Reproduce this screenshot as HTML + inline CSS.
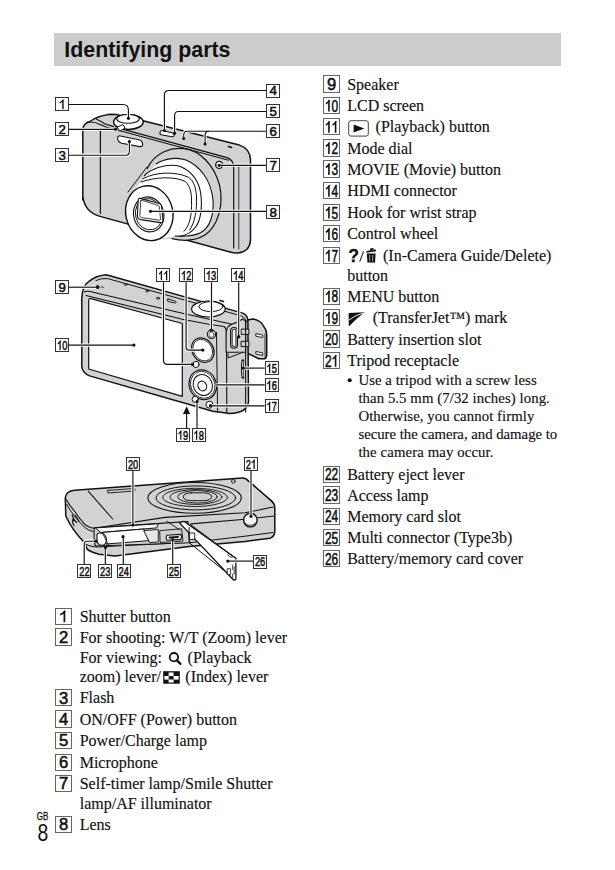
<!DOCTYPE html>
<html><head><meta charset="utf-8"><style>
html,body{margin:0;padding:0;background:#fff;}
body{width:615px;height:870px;position:relative;overflow:hidden;}
.title{position:absolute;left:54px;top:33px;width:507px;height:33px;background:#cccccc;}
.title span{position:absolute;left:10.4px;top:0;font-family:"Liberation Sans",sans-serif;font-weight:bold;font-size:21.5px;line-height:33px;color:#111;white-space:nowrap;}
svg{position:absolute;left:0;top:0;}
</style></head><body>
<div class="title"></div>
<svg width="615" height="870" viewBox="0 0 615 870" fill="#111">
<g id="cam1" stroke="#111" stroke-width="1.5" stroke-linejoin="round" stroke-linecap="round">
  <!-- body silhouette -->
  <path d="M82.8 200 L82.8 130 Q83 123.5 89.5 121.8 Q97 116 110 114.3 L116 114.6 L143 120.7 L239.3 145.1 Q250.2 148.5 250.5 160 L250.5 240 Q250 251.5 238 253 Q234 253.2 230 252 L100 216.4 Q84.5 212 82.8 196 Z" fill="#d2d2d4"/>
  <!-- top surface front edge lines -->
  <path d="M96.5 119.2 Q101 121 104.5 123.8 L113.6 126.6" fill="none" stroke-width="1.1"/>
  <path d="M87.4 122.1 Q95 121.5 100 124.5 Q106 127.6 113.6 129" fill="none" stroke-width="1.1"/>
  <path d="M121.5 128.9 L227 157.6 Q233.7 159.8 233.7 168 L233.7 248" fill="none" stroke-width="1.2"/>
  <path d="M119 130.5 L228.5 160.2" fill="none" stroke-width="1.1"/>
  <path d="M238.8 166.5 L238.8 249" fill="none" stroke="#333" stroke-width="1"/>
  <path d="M100.4 131 L100.4 213.5" fill="none" stroke-width="1.2"/>
  <!-- shutter -->
  <ellipse cx="128.4" cy="122" rx="14.8" ry="7.4" fill="#fff"/>
  <ellipse cx="128" cy="118.9" rx="11.3" ry="4.4" fill="#fff" stroke-width="1.1"/>
  <!-- zoom lever -->
  <path d="M117.5 127 L123 124.5 L125 128 L120 131 Z" fill="#fff" stroke-width="1"/>
  <!-- flash -->
  <path d="M119.2 135.8 Q117.2 136.6 117.6 138.6 L118.3 140.8 Q119 142.6 121.8 143.2 L139.6 146.6 Q142.6 147 142.7 144.7 L142.2 142.4 Q141.6 140.4 138.8 139.8 Z" fill="#fff" stroke-width="1.1"/>
  <!-- power button -->
  <path d="M160.1 131.7 Q159.3 133.5 161 134.7 L172 136.7 Q174.3 136.9 174.3 135.1 Q173.9 133.1 172 132.7 L162.3 130.5 Q160.7 130.3 160.1 131.7 Z" fill="#fff" stroke-width="1.1"/>
  
  <!-- strap mark -->
  <path d="M228.5 146.5 L231.5 147.4" stroke-width="1.6"/>
  <!-- lens base -->
  <path d="M147.3 168.4 C 155 152, 172 147, 184 148.7 C 200 150.5, 214 165, 219.5 185 C 224 205, 218 226, 205 235 C 195 241, 182 241, 176.6 238.7 L 150 240 L 135 200 Z" fill="#d2d2d4" stroke="none"/>
  <path d="M147.3 168.4 C 155 152, 172 147, 184 148.7 C 200 150.5, 214 165, 219.5 185 C 224 205, 218 226, 205 235 C 195 241, 182 241, 172 238.7" fill="none" stroke-width="1.2"/>
  <path d="M156.1 164 C 165 158, 178 157, 186 160 C 200 166, 211 180, 213 200 C 214 215, 210 228, 200 233 C 193 236.5, 185 236.5, 175 236 L 150 240 L 130 195 Z" fill="#fff" stroke="none"/>
  <path d="M156.1 164 C 165 158, 178 157, 186 160 C 200 166, 211 180, 213 200 C 214 215, 210 228, 200 233 C 193 236.5, 185 236.5, 175 236" fill="none" stroke-width="1.1"/>
  <path d="M130 195 L 156.1 164 L 175 236 L 150 240 Z" fill="#fff" stroke="none"/>
  <path d="M144.4 175.7 C 150 169, 165 164, 176.6 165.5 C 188 168, 198 178, 200.5 192 C 203 208, 200 222, 195.6 227 C 192 232, 187 235, 180 236.5" fill="none" stroke-width="1.1"/>
  <path d="M142.9 178.7 C 155 172, 175 171, 188.3 177.2 C 194 181, 196 188, 196.5 197 C 197 210, 195 222, 189.8 229.9" fill="none" stroke-width="1"/>
  <path d="M141 182 C 155 177, 175 176, 185.4 181.6 C 190 186, 191.5 192, 191.5 200 C 192 215, 190 225, 184 231.3" fill="none" stroke-width="1"/>
  <path d="M147 167 L 128 192" fill="none" stroke-width="1"/>
  <!-- front ring -->
  <ellipse cx="149.3" cy="213.2" rx="23.5" ry="27.6" fill="#fff" stroke-width="1.4" transform="rotate(-14 149.3 213.2)"/>
  <ellipse cx="148.7" cy="214.4" rx="15.1" ry="17.6" fill="#fff" stroke-width="1.1" transform="rotate(-14 148.7 214.4)"/>
  <ellipse cx="148.9" cy="214.2" rx="13.4" ry="15.8" fill="none" stroke-width="0.9" transform="rotate(-14 148.9 214.2)"/>
  <path d="M140 198.4 Q138.6 198 138.2 200 L137.4 215.5 Q137.4 219 140.8 219.6 L160.5 222.6 Q163.2 222.8 162.9 219.8 L161.6 206 Q161.3 204 159.2 203.5 Z" fill="#fff" stroke-width="1.1"/>
  <path d="M140.8 200.8 L139.8 215.5 Q139.9 217.3 141.6 217.6 L159.4 220.2 Q160.7 220.2 160.5 218.9 L159.3 206.6 Q159.1 205.7 158 205.4 L142.4 200.4 Q141 200.1 140.8 200.8 Z" fill="none" stroke-width="0.8"/>
  <!-- lamp -->
  <circle cx="219.2" cy="164.9" r="3.5" fill="#fff" stroke-width="1.4"/>
</g>
<!-- labels cam1 -->
<g fill="none" stroke="#fff" stroke-width="3.2">
  <path d="M69 104.5 H123 Q128.4 104.5 128.4 110 V118.3"/>
  <path d="M69 129.3 H115.4"/>
  <path d="M69 155.2 H126 Q129.4 155.2 129.4 151.5 V141.5"/>
  <path d="M164.4 130.5 V95 Q164.4 90.5 169 90.5 H266.3"/>
  <path d="M174.6 133.4 V115.5 Q174.6 111.5 178.5 111.5 H266.3"/>
  <path d="M183.7 138.5 V135 Q183.7 131.2 187.5 131.2 H266.3"/>
  <path d="M205.1 143.9 V135 Q205.1 131.2 209 131.2"/>
</g>
<g fill="none" stroke="#111" stroke-width="1.15">
  <path d="M69 104.5 H123 Q128.4 104.5 128.4 110 V118.3"/>
  <path d="M69 129.3 H115.4"/>
  <path d="M69 155.2 H126 Q129.4 155.2 129.4 151.5 V141.5"/>
  <path d="M164.4 130.5 V95 Q164.4 90.5 169 90.5 H266.3"/>
  <path d="M174.6 133.4 V115.5 Q174.6 111.5 178.5 111.5 H266.3"/>
  <path d="M183.7 138.5 V135 Q183.7 131.2 187.5 131.2 H266.3"/>
  <path d="M205.1 143.9 V135 Q205.1 131.2 209 131.2"/>
</g>
<g stroke="#fff" stroke-width="3" fill="none">
  <path d="M222 165.3 H266.3"/>
  <path d="M152 211.3 H266.3"/>
</g>
<g stroke="#111" stroke-width="1.15" fill="none">
  <path d="M219.2 165.3 H266.3"/>
  <path d="M150.5 211.3 H266.3"/>
</g>
<g fill="#111">
  <circle cx="128.4" cy="118.3" r="1.6"/>
  <circle cx="115.6" cy="129.2" r="1.6"/>
  <circle cx="129.4" cy="141.5" r="1.6"/>
  <circle cx="164.4" cy="130.5" r="1.6"/>
  <circle cx="174.6" cy="133.2" r="1.6"/>
  <circle cx="183.7" cy="138.5" r="1.6"/>
  <circle cx="205.1" cy="143.9" r="1.6"/>
  <circle cx="219.2" cy="165.3" r="1.6"/>
  <circle cx="150.5" cy="211.3" r="1.6"/>
</g>
<g id="cam2" stroke="#111" stroke-width="1.5" stroke-linejoin="round" stroke-linecap="round">
  <!-- flap (behind) -->
  <path d="M245.5 320.6 L252.5 318.9 Q261 320 263.6 326.3 Q266.7 330 266.7 334.4 L266.7 355.5 Q266 358.8 263.9 358.8 L259 358.8 L245.5 352.3 Z" fill="#d2d2d4"/>
  <path d="M265 334 L265 356" fill="none" stroke-width="0.8"/>
  <!-- body silhouette -->
  <path d="M81.8 298.2 Q82.5 285 88.7 281.6 Q95 276 106.2 274.8 L243.5 313.4 Q248 316 247.9 321 L248.5 401.8 Q247 413 229.8 413.4 L212.8 411.3 L89.6 375.9 Q82 373 81.8 366.1 Z" fill="#d2d2d4"/>
  <!-- bevel lines -->
  <path d="M96 280.5 Q101 278 107.6 278.6 L241.7 316 Q246 318 246.5 322" fill="none" stroke-width="1"/>
  <path d="M84.5 291.8 Q86 291 90 291.5 L184.5 313.7 L240 326" fill="none" stroke-width="1.1"/>
  <path d="M86 295.5 L182.3 319.2 L208.8 324.3 L224 326.5 Q226.4 328 226.5 334 L226.8 412" fill="none" stroke-width="1.1"/>
  <path d="M216.5 332.4 L217.6 412" fill="none" stroke-width="1"/>
  <!-- LCD -->
  <path d="M88.7 300.5 Q88.7 298 91 298.6 L182.3 323.5 L182.3 396.3 L88.7 369 Z" fill="#fff" stroke-width="1.2"/>
  <!-- top holes -->
  <circle cx="97.4" cy="286.9" r="1.2"/>
  <path d="M101 287.5 Q102 285 103.5 287.8" fill="none" stroke-width="0.8"/>
  <ellipse cx="125.7" cy="284.5" rx="1.6" ry="0.9" fill="none" stroke-width="0.9"/>
  <ellipse cx="147.2" cy="291" rx="1.6" ry="0.9" fill="none" stroke-width="0.9"/>
  <ellipse cx="158" cy="298.2" rx="1.6" ry="0.9" fill="none" stroke-width="0.9"/>
  <path d="M168 299 L175.5 301.2 Q177 302.5 175.5 303 L168 301.5 Q166.5 300 168 299 Z" fill="none" stroke-width="0.9"/>
  <!-- mode dial -->
  <ellipse cx="208.4" cy="309" rx="16.8" ry="8" fill="#fff" stroke-width="1.2"/>
  <ellipse cx="211" cy="306.6" rx="12" ry="5" fill="none" stroke-width="1"/>
  <path d="M220 300.6 L223.5 301.5" stroke-width="1.5"/>
  <!-- movie button -->
  <circle cx="211.5" cy="334.3" r="4.2" fill="#fff" stroke-width="1.1"/>
  <circle cx="211.5" cy="334.6" r="2.6" fill="none" stroke-width="0.7"/>
  <!-- big button 12 -->
  <ellipse cx="202.8" cy="350.1" rx="10.6" ry="12.8" fill="#fff" stroke-width="1.2" transform="rotate(-32 202.8 350.1)"/>
  <ellipse cx="202.8" cy="350.1" rx="9.2" ry="11.4" fill="none" stroke-width="0.8" transform="rotate(-32 202.8 350.1)"/>
  <!-- playback -->
  <circle cx="196" cy="364.4" r="3.1" fill="#fff" stroke-width="1"/>
  <!-- control wheel -->
  <ellipse cx="202.8" cy="384.8" rx="13.4" ry="15.2" fill="#fff" stroke-width="1.2" transform="rotate(-25 202.8 384.8)"/>
  <ellipse cx="202.8" cy="384.8" rx="12" ry="13.8" fill="none" stroke-width="0.8" transform="rotate(-25 202.8 384.8)"/>
  <ellipse cx="202.8" cy="385" rx="9.4" ry="10.8" fill="none" stroke-width="1" transform="rotate(-25 202.8 385)"/>
  <ellipse cx="202.3" cy="386" rx="4.2" ry="5.1" fill="#fff" stroke-width="1.1" transform="rotate(-25 202.3 386)"/>
  <!-- menu / delete -->
  <circle cx="195.2" cy="399.3" r="3.1" fill="#fff" stroke-width="1"/>
  <circle cx="209.5" cy="404.7" r="3.5" fill="#fff" stroke-width="1"/>
  <!-- side face -->
  <path d="M226.1 352.3 L226.1 334.4 Q226.5 328 228.5 326.3 Q232 323.5 236.3 322.6 Q240 321 242.5 319 L245.6 321 L245.6 352.3 Z" fill="#d2d2d4" stroke-width="1.1"/>
  <path d="M228.1 353.9 L228.1 358 L242.8 352.3" fill="#d2d2d4" stroke-width="1"/>
  <path d="M230.6 331 Q230.6 327.5 234 327.5 Q237.5 327.5 237.5 331 L237.5 344.8 Q237.5 348.2 234 348.2 Q230.6 348.2 230.6 344.8 Z" fill="#d2d2d4" stroke-width="1.1"/>
  <path d="M232.2 331.2 Q232.2 329.2 234 329.2 Q235.9 329.2 235.9 331.2 L235.9 344.6 Q235.9 346.6 234 346.6 Q232.2 346.6 232.2 344.6 Z" fill="#fff" stroke-width="0.9"/>
  <rect x="241.5" y="329.1" width="7.4" height="5.3" fill="#d2d2d4" stroke-width="1"/>
  <rect x="241.5" y="341.3" width="7.4" height="5.3" fill="#d2d2d4" stroke-width="1"/>
  <path d="M245.6 320.6 L245.6 412" fill="none" stroke-width="1.1"/>
  <path d="M256.2 333.6 L262.7 335 L262.7 337.6 L256.2 336.2 Z" fill="#fff" stroke-width="0.9"/>
  <path d="M256.2 351.5 L262.7 352.9 L262.7 355.5 L256.2 354.1 Z" fill="#fff" stroke-width="0.9"/>
  <path d="M242.9 360.5 Q241.5 368 242.9 377.5" fill="none" stroke-width="2.6" stroke="#111"/>
  <path d="M242.9 361.5 Q241.8 368 242.9 376.5" fill="none" stroke-width="0.9" stroke="#fff"/>
</g>
<!-- labels cam2 -->
<g fill="none" stroke="#fff" stroke-width="3.2">
  <path d="M69 287.2 H97.4"/>
  <path d="M69 345.1 H133.9"/>
  <path d="M163.5 282.2 V360.5 Q163.5 364.4 167.5 364.4 H192.4"/>
  <path d="M186.1 282.2 V347 Q186.1 350.1 189 350.1 H202.8"/>
  <path d="M211.5 282.2 V330.2"/>
  <path d="M238.7 282.2 V336.8"/>
  <path d="M243.3 368.1 H264.7"/>
  <path d="M216.2 384.9 H264.7"/>
  <path d="M210.5 405.8 H264.7"/>
  <path d="M197 401.2 V428.2"/>
  <path d="M186.6 412 V428.2"/>
</g>
<g fill="none" stroke="#111" stroke-width="1.15">
  <path d="M69 287.2 H97.4"/>
  <path d="M69 345.1 H133.9"/>
  <path d="M163.5 282.2 V360.5 Q163.5 364.4 167.5 364.4 H192.4"/>
  <path d="M186.1 282.2 V347 Q186.1 350.1 189 350.1 H202.8"/>
  <path d="M211.5 282.2 V330.2"/>
  <path d="M238.7 282.2 V336.8"/>
  <path d="M243.3 368.1 H264.7"/>
  <path d="M216.2 384.9 H264.7"/>
  <path d="M210.5 405.8 H264.7"/>
  <path d="M197 401.2 V428.2"/>
  <path d="M186.6 412 V428.2"/>
</g>
<path d="M186.6 406.3 L183 414 L190.2 414 Z" fill="#111"/>
<g fill="#111">
  <circle cx="97.6" cy="287.2" r="1.7"/>
  <circle cx="133.9" cy="345.1" r="1.6"/>
  <circle cx="192.4" cy="364.4" r="1.7"/>
  <circle cx="202.8" cy="350.1" r="1.7"/>
  <circle cx="211.3" cy="330.2" r="1.7"/>
  <circle cx="238.7" cy="336.8" r="1.7"/>
  <circle cx="243.3" cy="368.1" r="1.6"/>
  <circle cx="210.5" cy="405.8" r="1.7"/>
  <circle cx="197" cy="401.5" r="1.6"/>
</g>
<g id="cam3" stroke="#111" stroke-width="1.5" stroke-linejoin="round" stroke-linecap="round">
  <!-- body silhouette -->
  <path d="M65.3 497.5 Q66 491 74.6 490.2 L242.3 478.1 Q246 478 248.8 481.4 L271.5 500.9 Q274.8 504 274.8 508 L274.8 531.8 Q274 537 269.9 538.3 L245 541.4 L189 546.6 L115 556.1 L99 554.2 Q90 551.5 87.3 549.3 L84.3 542.4 Q72 530 65.8 516 Z" fill="#d2d2d4"/>
  <!-- bottom-face edges -->
  <path d="M66.2 499.4 Q70 506 74.6 511.2 Q80 519 84.3 523.9 Q88 527.5 94.1 528.3" fill="none" stroke-width="1.1"/>
  <path d="M66.7 504.3 Q70 511 74.6 516 Q80 523 84.3 527 Q88 530.5 93 531.5" fill="none" stroke-width="1"/>
  <path d="M94.1 528.3 L165 517.4 L245 512.8 L273.2 507" fill="none" stroke-width="1.1"/>
  <path d="M191 523.9 L245 519.3 L274 516" fill="none" stroke-width="1.1"/>
  <path d="M189.7 542.7 L245 536.2 L273 532.5" fill="none" stroke-width="1"/>
  <path d="M248.8 481.4 Q253 484 256 487 L272 502" fill="none" stroke-width="0.9"/>
  <path d="M88.2 491.1 L112.7 519" fill="none" stroke-width="1.1"/>
  <!-- slot -->
  <path d="M108 490.4 L134.5 488.5 Q136 489.5 134.5 491 L108 493 Q106.5 491.8 108 490.4 Z" fill="none" stroke-width="0.9"/>
  <!-- hook mark -->
  <path d="M72.2 515 Q73.5 520 76.5 522.5 M75.5 515.5 L79 521.5 M73 519 Q72 523 74 525.5" fill="none" stroke-width="1.2"/>
  <!-- lens rings -->
  <ellipse cx="194.6" cy="497.9" rx="46.7" ry="15.4" fill="#d2d2d4" stroke-width="1.1"/>
  <ellipse cx="195.8" cy="497.9" rx="39.8" ry="12" fill="none" stroke-width="1"/>
  <ellipse cx="195.2" cy="497.4" rx="32.4" ry="9.1" fill="none" stroke-width="0.9"/>
  <ellipse cx="196" cy="497" rx="26" ry="7.4" fill="none" stroke-width="0.9"/>
  <ellipse cx="197.5" cy="496.8" rx="19.9" ry="6.3" fill="none" stroke-width="0.9"/>
  <rect x="183.2" y="492.8" width="28.5" height="7.9" rx="8" ry="3.9" fill="none" stroke-width="1"/>
  <circle cx="233.3" cy="481.3" r="1.8" fill="none" stroke-width="0.9"/>
  <!-- tripod -->
  <circle cx="250.4" cy="520.1" r="6.8" fill="#f4f4f4" stroke-width="1.4"/>
  <path d="M244.5 523 Q250 528 256 523" fill="none" stroke-width="0.8"/>
  <!-- lower ledge -->
  <path d="M84.3 543.4 Q88 546.5 96 547 L189 542.4" fill="none" stroke-width="1"/>
  <!-- battery compartment -->
  <path d="M94.1 527.8 L160.1 523.4 L188 521.5 L189.7 542.7 L96 546 Q94 545 94.1 537.6 Z" fill="#d2d2d4" stroke-width="1.1"/>
  <path d="M95.7 527.9 L158.3 523.8 L156.6 527.9 L101.1 532.4 Z" fill="#fff" stroke-width="1"/>
  <path d="M102.9 532.4 L144 529 L149.4 540.6 L106.5 544 Z" fill="#fff" stroke-width="1"/>
  <path d="M144 530.6 L158.3 529.5 L158.3 542 L150 542.5 Z" fill="#e6e6e6" stroke-width="0.9"/>
  <path d="M97 534.5 Q97.5 532.8 100 533 L103 533.4 Q106.5 535.5 106.5 540 Q106 545 102 545.3 Q97.5 545 97 540.5 Z" fill="#fff" stroke-width="1.1"/>
  <path d="M103 534 L108.5 545" fill="none" stroke-width="0.9"/>
  <!-- connector -->
  <path d="M160.1 530.6 L181.6 528.8 L183 541 L160.5 542.5 Z" fill="#d2d2d4" stroke-width="0.9"/>
  <path d="M167 521.3 L179.3 529.7" fill="none" stroke-width="0.9"/>
  <path d="M166.8 535.2 Q165.3 537.6 167 540.3 L180.5 539.4 Q182.6 537 180.8 534.4 Z" fill="#fff" stroke-width="1.1"/>
  <path d="M169.5 537.5 L178 537" stroke-width="1.9"/>
  <!-- door -->
  <path d="M179.3 522.6 L183.9 521.3 L235.9 558.3 L235.9 579.1 Q235.5 580.4 233.3 579.8 Z" fill="#fff" stroke-width="1.3"/>
  <path d="M190.4 524.5 L226.5 551.5 L235.9 558.3" fill="none" stroke-width="1"/>
  <path d="M189.1 527.5 L189.1 542.7 L230 575.2" fill="none" stroke-width="1"/>
  <rect x="189.7" y="533" width="5" height="6.5" fill="#fff" stroke-width="0.9"/>
  <path d="M227.5 554.5 Q229 557.5 232 557.5" fill="none" stroke-width="0.8"/>
  <rect x="227.6" y="568.7" width="3" height="5.9" fill="#fff" stroke-width="0.8"/>
  <path d="M232.7 565 L232.7 569.5 M234.2 567 L234.2 574 M232.7 574 L232.7 578" fill="none" stroke-width="0.8"/>
</g>
<!-- labels cam3 -->
<g fill="none" stroke="#fff" stroke-width="3.2">
  <path d="M132.9 470.8 V525.1"/>
  <path d="M251 470.8 V516.3"/>
  <path d="M84.2 564.2 V544 Q84.2 541.2 87.5 541.2 H95.8"/>
  <path d="M105.3 564.2 V547.5"/>
  <path d="M123.3 564.2 V536.7"/>
  <path d="M172.7 564.3 V539.7"/>
  <path d="M227.8 561.1 H253.1"/>
</g>
<g fill="none" stroke="#111" stroke-width="1.15">
  <path d="M132.9 470.8 V525.1"/>
  <path d="M251 470.8 V516.3"/>
  <path d="M84.2 564.2 V544 Q84.2 541.2 87.5 541.2 H95.8"/>
  <path d="M105.3 564.2 V547.5"/>
  <path d="M123.3 564.2 V536.7"/>
  <path d="M172.7 564.3 V539.7"/>
  <path d="M227.8 561.1 H253.1"/>
</g>
<g fill="#111">
  <circle cx="132.9" cy="525.1" r="1.6"/>
  <circle cx="251" cy="516.3" r="1.6"/>
  <circle cx="95.8" cy="541.2" r="1.6"/>
  <circle cx="105.5" cy="547.5" r="1.6"/>
  <circle cx="123" cy="536.7" r="1.6"/>
  <circle cx="172.7" cy="539.7" r="1.6"/>
  <circle cx="227.8" cy="561.1" r="1.6"/>
</g>

<rect x="323.50" y="75.50" width="16.00" height="17.00" fill="#fff" stroke="#666" stroke-width="1"/><text x="326.99" y="90.00" font-family='"Liberation Sans", sans-serif' font-size="16.6" stroke="#111" stroke-width="0.55" textLength="9.23" lengthAdjust="spacingAndGlyphs">9</text>
<text x="347.2" y="89.5" font-family='"Liberation Serif", serif' font-size="16" stroke="#111" stroke-width="0.15" >Speaker</text>
<rect x="323.50" y="97.50" width="16.00" height="16.00" fill="#fff" stroke="#666" stroke-width="1"/><path d="M328.94 111.50 V100.35 M329.65 99.88 Q327.52 103.13 325.89 103.83" fill="none" stroke="#111" stroke-width="1.58" stroke-linejoin="miter"/><text x="331.60" y="111.50" font-family='"Liberation Sans", sans-serif' font-size="16.6" stroke="#111" stroke-width="0.55" textLength="6.64" lengthAdjust="spacingAndGlyphs">0</text>
<text x="347.2" y="111.0" font-family='"Liberation Serif", serif' font-size="16" stroke="#111" stroke-width="0.15" >LCD screen</text>
<rect x="323.50" y="118.50" width="16.00" height="16.00" fill="#fff" stroke="#666" stroke-width="1"/><path d="M328.94 132.80 V121.65 M329.65 121.18 Q327.52 124.43 325.89 125.13" fill="none" stroke="#111" stroke-width="1.58" stroke-linejoin="miter"/><path d="M335.58 132.80 V121.65 M336.29 121.18 Q334.16 124.43 332.53 125.13" fill="none" stroke="#111" stroke-width="1.58" stroke-linejoin="miter"/>
<rect x="323.50" y="139.50" width="16.00" height="17.00" fill="#fff" stroke="#666" stroke-width="1"/><path d="M328.94 154.00 V142.85 M329.65 142.38 Q327.52 145.63 325.89 146.33" fill="none" stroke="#111" stroke-width="1.58" stroke-linejoin="miter"/><text x="331.60" y="154.00" font-family='"Liberation Sans", sans-serif' font-size="16.6" stroke="#111" stroke-width="0.55" textLength="6.64" lengthAdjust="spacingAndGlyphs">2</text>
<text x="347.2" y="153.5" font-family='"Liberation Serif", serif' font-size="16" stroke="#111" stroke-width="0.15" >Mode dial</text>
<rect x="323.50" y="160.50" width="16.00" height="17.00" fill="#fff" stroke="#666" stroke-width="1"/><path d="M328.94 175.10 V163.95 M329.65 163.48 Q327.52 166.73 325.89 167.43" fill="none" stroke="#111" stroke-width="1.58" stroke-linejoin="miter"/><text x="331.60" y="175.10" font-family='"Liberation Sans", sans-serif' font-size="16.6" stroke="#111" stroke-width="0.55" textLength="6.64" lengthAdjust="spacingAndGlyphs">3</text>
<text x="347.2" y="174.6" font-family='"Liberation Serif", serif' font-size="16" stroke="#111" stroke-width="0.15" >MOVIE (Movie) button</text>
<rect x="323.50" y="182.50" width="16.00" height="16.00" fill="#fff" stroke="#666" stroke-width="1"/><path d="M328.94 196.70 V185.55 M329.65 185.08 Q327.52 188.33 325.89 189.03" fill="none" stroke="#111" stroke-width="1.58" stroke-linejoin="miter"/><text x="331.60" y="196.70" font-family='"Liberation Sans", sans-serif' font-size="16.6" stroke="#111" stroke-width="0.55" textLength="6.64" lengthAdjust="spacingAndGlyphs">4</text>
<text x="347.2" y="196.2" font-family='"Liberation Serif", serif' font-size="16" stroke="#111" stroke-width="0.15" >HDMI connector</text>
<rect x="323.50" y="204.50" width="16.00" height="16.00" fill="#fff" stroke="#666" stroke-width="1"/><path d="M328.94 218.50 V207.35 M329.65 206.88 Q327.52 210.13 325.89 210.83" fill="none" stroke="#111" stroke-width="1.58" stroke-linejoin="miter"/><text x="331.60" y="218.50" font-family='"Liberation Sans", sans-serif' font-size="16.6" stroke="#111" stroke-width="0.55" textLength="6.64" lengthAdjust="spacingAndGlyphs">5</text>
<text x="347.2" y="218.0" font-family='"Liberation Serif", serif' font-size="16" stroke="#111" stroke-width="0.15" >Hook for wrist strap</text>
<rect x="323.50" y="225.50" width="16.00" height="16.00" fill="#fff" stroke="#666" stroke-width="1"/><path d="M328.94 239.90 V228.75 M329.65 228.28 Q327.52 231.53 325.89 232.23" fill="none" stroke="#111" stroke-width="1.58" stroke-linejoin="miter"/><text x="331.60" y="239.90" font-family='"Liberation Sans", sans-serif' font-size="16.6" stroke="#111" stroke-width="0.55" textLength="6.64" lengthAdjust="spacingAndGlyphs">6</text>
<text x="347.2" y="239.4" font-family='"Liberation Serif", serif' font-size="16" stroke="#111" stroke-width="0.15" >Control wheel</text>
<rect x="323.50" y="247.50" width="16.00" height="16.00" fill="#fff" stroke="#666" stroke-width="1"/><path d="M328.94 261.50 V250.35 M329.65 249.88 Q327.52 253.13 325.89 253.83" fill="none" stroke="#111" stroke-width="1.58" stroke-linejoin="miter"/><text x="331.60" y="261.50" font-family='"Liberation Sans", sans-serif' font-size="16.6" stroke="#111" stroke-width="0.55" textLength="6.64" lengthAdjust="spacingAndGlyphs">7</text>
<text x="347.2" y="280.5" font-family='"Liberation Serif", serif' font-size="16" stroke="#111" stroke-width="0.15" >button</text>
<rect x="323.50" y="288.50" width="16.00" height="16.00" fill="#fff" stroke="#666" stroke-width="1"/><path d="M328.94 302.30 V291.15 M329.65 290.68 Q327.52 293.93 325.89 294.63" fill="none" stroke="#111" stroke-width="1.58" stroke-linejoin="miter"/><text x="331.60" y="302.30" font-family='"Liberation Sans", sans-serif' font-size="16.6" stroke="#111" stroke-width="0.55" textLength="6.64" lengthAdjust="spacingAndGlyphs">8</text>
<text x="347.2" y="301.8" font-family='"Liberation Serif", serif' font-size="16" stroke="#111" stroke-width="0.15" >MENU button</text>
<rect x="323.50" y="309.50" width="16.00" height="16.00" fill="#fff" stroke="#666" stroke-width="1"/><path d="M328.94 323.70 V312.55 M329.65 312.08 Q327.52 315.33 325.89 316.03" fill="none" stroke="#111" stroke-width="1.58" stroke-linejoin="miter"/><text x="331.60" y="323.70" font-family='"Liberation Sans", sans-serif' font-size="16.6" stroke="#111" stroke-width="0.55" textLength="6.64" lengthAdjust="spacingAndGlyphs">9</text>
<rect x="323.50" y="330.50" width="16.00" height="17.00" fill="#fff" stroke="#666" stroke-width="1"/><text x="324.96" y="345.10" font-family='"Liberation Sans", sans-serif' font-size="16.6" stroke="#111" stroke-width="0.55" textLength="6.64" lengthAdjust="spacingAndGlyphs">2</text><text x="331.60" y="345.10" font-family='"Liberation Sans", sans-serif' font-size="16.6" stroke="#111" stroke-width="0.55" textLength="6.64" lengthAdjust="spacingAndGlyphs">0</text>
<text x="347.2" y="344.6" font-family='"Liberation Serif", serif' font-size="16" stroke="#111" stroke-width="0.15" >Battery insertion slot</text>
<rect x="323.50" y="352.50" width="16.00" height="16.00" fill="#fff" stroke="#666" stroke-width="1"/><text x="324.96" y="366.70" font-family='"Liberation Sans", sans-serif' font-size="16.6" stroke="#111" stroke-width="0.55" textLength="6.64" lengthAdjust="spacingAndGlyphs">2</text><path d="M335.58 366.70 V355.55 M336.29 355.08 Q334.16 358.33 332.53 359.03" fill="none" stroke="#111" stroke-width="1.58" stroke-linejoin="miter"/>
<text x="347.2" y="366.2" font-family='"Liberation Serif", serif' font-size="16" stroke="#111" stroke-width="0.15" >Tripod receptacle</text>
<rect x="323.50" y="466.50" width="16.00" height="16.00" fill="#fff" stroke="#666" stroke-width="1"/><text x="324.96" y="480.20" font-family='"Liberation Sans", sans-serif' font-size="16.6" stroke="#111" stroke-width="0.55" textLength="6.64" lengthAdjust="spacingAndGlyphs">2</text><text x="331.60" y="480.20" font-family='"Liberation Sans", sans-serif' font-size="16.6" stroke="#111" stroke-width="0.55" textLength="6.64" lengthAdjust="spacingAndGlyphs">2</text>
<text x="347.2" y="479.7" font-family='"Liberation Serif", serif' font-size="16" stroke="#111" stroke-width="0.15" >Battery eject lever</text>
<rect x="323.50" y="486.50" width="16.00" height="17.00" fill="#fff" stroke="#666" stroke-width="1"/><text x="324.96" y="501.00" font-family='"Liberation Sans", sans-serif' font-size="16.6" stroke="#111" stroke-width="0.55" textLength="6.64" lengthAdjust="spacingAndGlyphs">2</text><text x="331.60" y="501.00" font-family='"Liberation Sans", sans-serif' font-size="16.6" stroke="#111" stroke-width="0.55" textLength="6.64" lengthAdjust="spacingAndGlyphs">3</text>
<text x="347.2" y="500.5" font-family='"Liberation Serif", serif' font-size="16" stroke="#111" stroke-width="0.15" >Access lamp</text>
<rect x="323.50" y="508.50" width="16.00" height="16.00" fill="#fff" stroke="#666" stroke-width="1"/><text x="324.96" y="522.30" font-family='"Liberation Sans", sans-serif' font-size="16.6" stroke="#111" stroke-width="0.55" textLength="6.64" lengthAdjust="spacingAndGlyphs">2</text><text x="331.60" y="522.30" font-family='"Liberation Sans", sans-serif' font-size="16.6" stroke="#111" stroke-width="0.55" textLength="6.64" lengthAdjust="spacingAndGlyphs">4</text>
<text x="347.2" y="521.8" font-family='"Liberation Serif", serif' font-size="16" stroke="#111" stroke-width="0.15" >Memory card slot</text>
<rect x="323.50" y="529.50" width="16.00" height="16.00" fill="#fff" stroke="#666" stroke-width="1"/><text x="324.96" y="543.60" font-family='"Liberation Sans", sans-serif' font-size="16.6" stroke="#111" stroke-width="0.55" textLength="6.64" lengthAdjust="spacingAndGlyphs">2</text><text x="331.60" y="543.60" font-family='"Liberation Sans", sans-serif' font-size="16.6" stroke="#111" stroke-width="0.55" textLength="6.64" lengthAdjust="spacingAndGlyphs">5</text>
<text x="347.2" y="543.1" font-family='"Liberation Serif", serif' font-size="16" stroke="#111" stroke-width="0.15" >Multi connector (Type3b)</text>
<rect x="323.50" y="550.50" width="16.00" height="16.00" fill="#fff" stroke="#666" stroke-width="1"/><text x="324.96" y="564.70" font-family='"Liberation Sans", sans-serif' font-size="16.6" stroke="#111" stroke-width="0.55" textLength="6.64" lengthAdjust="spacingAndGlyphs">2</text><text x="331.60" y="564.70" font-family='"Liberation Sans", sans-serif' font-size="16.6" stroke="#111" stroke-width="0.55" textLength="6.64" lengthAdjust="spacingAndGlyphs">6</text>
<text x="347.2" y="564.2" font-family='"Liberation Serif", serif' font-size="16" stroke="#111" stroke-width="0.15" >Battery/memory card cover</text>
<rect x="348.7" y="120.70000000000002" width="19.6" height="15.4" rx="2.2" fill="#fff" stroke="#444" stroke-width="1"/>
<path d="M353.6 124.50000000000001 L364.4 128.4 L353.6 132.60000000000002 Z" fill="#111"/>
<text x="375.6" y="132.3" font-family='"Liberation Serif", serif' font-size="16" stroke="#111" stroke-width="0.15" >(Playback) button</text>
<text x="348.2" y="262.3" font-family='"Liberation Sans", sans-serif' font-size="17.6" stroke="#111" stroke-width="0.3" font-weight="bold">?</text>
<line x1="363.6" y1="251.2" x2="359.7" y2="261.6" stroke="#222" stroke-width="1.05"/>
<g fill="#111"><path d="M366.4 251.1 L375.9 249.4 L376 251.2 L366.5 252.7 Z"/><path d="M369.8 250.4 L370.2 248.6 L373.4 248.0 L373.7 249.8 Z"/><path d="M366.8 253.4 H375.6 L375 262.6 H367.4 Z"/></g><g stroke="#bbb" stroke-width="0.9"><line x1="369.6" y1="255.0" x2="369.8" y2="261.2"/><line x1="372.8" y1="255.0" x2="372.6" y2="261.2"/></g>
<text x="383.0" y="261.0" font-family='"Liberation Serif", serif' font-size="16" stroke="#111" stroke-width="0.15" >(In-Camera Guide/Delete)</text>
<path d="M348.6 312.9 L364.6 312.2 Q356 319.0 348.8 326.4 Z" fill="#111"/><path d="M349 320.0 Q354 315.59999999999997 363.8 312.9" fill="none" stroke="#fff" stroke-width="0.9"/>
<text x="372.7" y="323.2" font-family='"Liberation Serif", serif' font-size="16" stroke="#111" stroke-width="0.15" >(TransferJet&#8482;) mark</text>
<text x="358.4" y="384.5" font-family='"Liberation Serif", serif' font-size="14.8" stroke="#111" stroke-width="0.15" textLength="178.3" lengthAdjust="spacing">Use a tripod with a screw less</text>
<text x="358.4" y="402.7" font-family='"Liberation Serif", serif' font-size="14.8" stroke="#111" stroke-width="0.15" textLength="191.4" lengthAdjust="spacing">than 5.5 mm (7/32 inches) long.</text>
<text x="358.4" y="420.9" font-family='"Liberation Serif", serif' font-size="14.8" stroke="#111" stroke-width="0.15" textLength="176.0" lengthAdjust="spacing">Otherwise, you cannot firmly</text>
<text x="358.4" y="439.1" font-family='"Liberation Serif", serif' font-size="14.8" stroke="#111" stroke-width="0.15" textLength="198.8" lengthAdjust="spacing">secure the camera, and damage to</text>
<text x="358.4" y="457.3" font-family='"Liberation Serif", serif' font-size="14.8" stroke="#111" stroke-width="0.15" textLength="135.1" lengthAdjust="spacing">the camera may occur.</text>
<circle cx="349.7" cy="380.2" r="2.05" fill="#111"/>
<rect x="55.50" y="608.50" width="16.00" height="16.00" fill="#fff" stroke="#666" stroke-width="1"/><path d="M64.42 622.30 V611.20 M65.21 610.68 Q62.85 613.93 60.18 614.63" fill="none" stroke="#111" stroke-width="1.74" stroke-linejoin="miter"/>
<text x="79.7" y="621.8" font-family='"Liberation Serif", serif' font-size="16" stroke="#111" stroke-width="0.15" >Shutter button</text>
<rect x="55.50" y="628.50" width="16.00" height="17.00" fill="#fff" stroke="#666" stroke-width="1"/><text x="58.89" y="643.00" font-family='"Liberation Sans", sans-serif' font-size="16.6" stroke="#111" stroke-width="0.55" textLength="9.23" lengthAdjust="spacingAndGlyphs">2</text>
<text x="79.7" y="642.5" font-family='"Liberation Serif", serif' font-size="16" stroke="#111" stroke-width="0.15" >For shooting: W/T (Zoom) lever</text>
<rect x="55.50" y="689.50" width="16.00" height="16.00" fill="#fff" stroke="#666" stroke-width="1"/><text x="58.89" y="703.90" font-family='"Liberation Sans", sans-serif' font-size="16.6" stroke="#111" stroke-width="0.55" textLength="9.23" lengthAdjust="spacingAndGlyphs">3</text>
<text x="79.7" y="703.4" font-family='"Liberation Serif", serif' font-size="16" stroke="#111" stroke-width="0.15" >Flash</text>
<rect x="55.50" y="710.50" width="16.00" height="17.00" fill="#fff" stroke="#666" stroke-width="1"/><text x="58.89" y="725.00" font-family='"Liberation Sans", sans-serif' font-size="16.6" stroke="#111" stroke-width="0.55" textLength="9.23" lengthAdjust="spacingAndGlyphs">4</text>
<text x="79.7" y="724.5" font-family='"Liberation Serif", serif' font-size="16" stroke="#111" stroke-width="0.15" >ON/OFF (Power) button</text>
<rect x="55.50" y="732.50" width="16.00" height="16.00" fill="#fff" stroke="#666" stroke-width="1"/><text x="58.89" y="746.20" font-family='"Liberation Sans", sans-serif' font-size="16.6" stroke="#111" stroke-width="0.55" textLength="9.23" lengthAdjust="spacingAndGlyphs">5</text>
<text x="79.7" y="745.7" font-family='"Liberation Serif", serif' font-size="16" stroke="#111" stroke-width="0.15" >Power/Charge lamp</text>
<rect x="55.50" y="754.50" width="16.00" height="16.00" fill="#fff" stroke="#666" stroke-width="1"/><text x="58.89" y="768.30" font-family='"Liberation Sans", sans-serif' font-size="16.6" stroke="#111" stroke-width="0.55" textLength="9.23" lengthAdjust="spacingAndGlyphs">6</text>
<text x="79.7" y="767.8" font-family='"Liberation Serif", serif' font-size="16" stroke="#111" stroke-width="0.15" >Microphone</text>
<rect x="55.50" y="775.50" width="16.00" height="16.00" fill="#fff" stroke="#666" stroke-width="1"/><text x="58.89" y="789.30" font-family='"Liberation Sans", sans-serif' font-size="16.6" stroke="#111" stroke-width="0.55" textLength="9.23" lengthAdjust="spacingAndGlyphs">7</text>
<text x="79.7" y="788.8" font-family='"Liberation Serif", serif' font-size="16" stroke="#111" stroke-width="0.15" >Self-timer lamp/Smile Shutter</text>
<text x="79.7" y="808.6" font-family='"Liberation Serif", serif' font-size="16" stroke="#111" stroke-width="0.15" >lamp/AF illuminator</text>
<rect x="55.50" y="816.50" width="16.00" height="16.00" fill="#fff" stroke="#666" stroke-width="1"/><text x="58.89" y="830.20" font-family='"Liberation Sans", sans-serif' font-size="16.6" stroke="#111" stroke-width="0.55" textLength="9.23" lengthAdjust="spacingAndGlyphs">8</text>
<text x="79.7" y="829.7" font-family='"Liberation Serif", serif' font-size="16" stroke="#111" stroke-width="0.15" >Lens</text>
<text x="79.7" y="662.5" font-family='"Liberation Serif", serif' font-size="16" stroke="#111" stroke-width="0.15" >For viewing:</text>
<circle cx="173.9" cy="657.2" r="4.2" fill="none" stroke="#111" stroke-width="1.8"/><line x1="176.9" y1="660.2" x2="180.3" y2="663.8" stroke="#111" stroke-width="2.4" stroke-linecap="round"/>
<text x="187.6" y="662.5" font-family='"Liberation Serif", serif' font-size="16" stroke="#111" stroke-width="0.15" >(Playback</text>
<text x="79.7" y="681.5" font-family='"Liberation Serif", serif' font-size="16" stroke="#111" stroke-width="0.15" >zoom) lever/</text>
<rect x="163.2" y="671.2" width="16.6" height="12.5" fill="#111"/><rect x="168.6" y="672.5" width="5" height="3.6" fill="#fff"/><rect x="164.4" y="676.0" width="4.3" height="3.6" fill="#fff"/><rect x="173.6" y="676.0" width="5" height="3.6" fill="#fff"/><rect x="168.6" y="679.5" width="5" height="3.0" fill="#fff"/>
<text x="185.3" y="681.5" font-family='"Liberation Serif", serif' font-size="16" stroke="#111" stroke-width="0.15" >(Index) lever</text>
<text x="36.8" y="819.6" font-family='"Liberation Sans", sans-serif' font-size="10.6" stroke="#111" stroke-width="0.3" textLength="11.5" lengthAdjust="spacingAndGlyphs">GB</text>
<text x="37.6" y="841.3" font-family='"Liberation Sans", sans-serif' font-size="24.4" textLength="10.8" lengthAdjust="spacingAndGlyphs">8</text>
<rect x="55.50" y="97.50" width="13.00" height="13.00" fill="#fff" stroke="#333" stroke-width="1"/><path d="M62.94 109.00 V100.11 M63.57 99.69 Q61.68 102.30 59.54 102.86" fill="none" stroke="#111" stroke-width="1.40" stroke-linejoin="miter"/>
<rect x="55.50" y="122.50" width="13.00" height="13.00" fill="#fff" stroke="#333" stroke-width="1"/><text x="58.50" y="134.20" font-family='"Liberation Sans", sans-serif' font-size="13.3" stroke="#111" stroke-width="0.55" textLength="7.39" lengthAdjust="spacingAndGlyphs">2</text>
<rect x="55.50" y="148.50" width="13.00" height="13.00" fill="#fff" stroke="#333" stroke-width="1"/><text x="58.50" y="160.00" font-family='"Liberation Sans", sans-serif' font-size="13.3" stroke="#111" stroke-width="0.55" textLength="7.39" lengthAdjust="spacingAndGlyphs">3</text>
<rect x="266.50" y="84.50" width="13.00" height="13.00" fill="#fff" stroke="#333" stroke-width="1"/><text x="269.60" y="95.30" font-family='"Liberation Sans", sans-serif' font-size="13.3" stroke="#111" stroke-width="0.55" textLength="7.39" lengthAdjust="spacingAndGlyphs">4</text>
<rect x="266.50" y="104.50" width="13.00" height="13.00" fill="#fff" stroke="#333" stroke-width="1"/><text x="269.60" y="115.90" font-family='"Liberation Sans", sans-serif' font-size="13.3" stroke="#111" stroke-width="0.55" textLength="7.39" lengthAdjust="spacingAndGlyphs">5</text>
<rect x="266.50" y="124.50" width="13.00" height="13.00" fill="#fff" stroke="#333" stroke-width="1"/><text x="269.60" y="135.90" font-family='"Liberation Sans", sans-serif' font-size="13.3" stroke="#111" stroke-width="0.55" textLength="7.39" lengthAdjust="spacingAndGlyphs">6</text>
<rect x="266.50" y="158.50" width="13.00" height="13.00" fill="#fff" stroke="#333" stroke-width="1"/><text x="269.60" y="169.90" font-family='"Liberation Sans", sans-serif' font-size="13.3" stroke="#111" stroke-width="0.55" textLength="7.39" lengthAdjust="spacingAndGlyphs">7</text>
<rect x="266.50" y="205.50" width="13.00" height="13.00" fill="#fff" stroke="#333" stroke-width="1"/><text x="269.60" y="216.70" font-family='"Liberation Sans", sans-serif' font-size="13.3" stroke="#111" stroke-width="0.55" textLength="7.39" lengthAdjust="spacingAndGlyphs">8</text>
<rect x="55.50" y="280.50" width="13.00" height="13.00" fill="#fff" stroke="#333" stroke-width="1"/><text x="58.50" y="292.20" font-family='"Liberation Sans", sans-serif' font-size="13.3" stroke="#111" stroke-width="0.55" textLength="7.39" lengthAdjust="spacingAndGlyphs">9</text>
<rect x="55.50" y="338.50" width="13.00" height="13.00" fill="#fff" stroke="#333" stroke-width="1"/><path d="M60.12 350.00 V341.07 M60.69 340.69 Q58.98 343.30 57.73 343.86" fill="none" stroke="#111" stroke-width="1.26" stroke-linejoin="miter"/><text x="62.20" y="350.00" font-family='"Liberation Sans", sans-serif' font-size="13.3" stroke="#111" stroke-width="0.55" textLength="5.20" lengthAdjust="spacingAndGlyphs">0</text>
<rect x="156.50" y="268.50" width="13.00" height="13.00" fill="#fff" stroke="#333" stroke-width="1"/><path d="M161.42 280.20 V271.27 M161.99 270.89 Q160.28 273.50 159.03 274.06" fill="none" stroke="#111" stroke-width="1.26" stroke-linejoin="miter"/><path d="M166.62 280.20 V271.27 M167.19 270.89 Q165.48 273.50 164.23 274.06" fill="none" stroke="#111" stroke-width="1.26" stroke-linejoin="miter"/>
<rect x="179.50" y="268.50" width="13.00" height="13.00" fill="#fff" stroke="#333" stroke-width="1"/><path d="M184.22 280.20 V271.27 M184.79 270.89 Q183.08 273.50 181.83 274.06" fill="none" stroke="#111" stroke-width="1.26" stroke-linejoin="miter"/><text x="186.30" y="280.20" font-family='"Liberation Sans", sans-serif' font-size="13.3" stroke="#111" stroke-width="0.55" textLength="5.20" lengthAdjust="spacingAndGlyphs">2</text>
<rect x="204.50" y="268.50" width="13.00" height="13.00" fill="#fff" stroke="#333" stroke-width="1"/><path d="M209.02 280.20 V271.27 M209.59 270.89 Q207.88 273.50 206.63 274.06" fill="none" stroke="#111" stroke-width="1.26" stroke-linejoin="miter"/><text x="211.10" y="280.20" font-family='"Liberation Sans", sans-serif' font-size="13.3" stroke="#111" stroke-width="0.55" textLength="5.20" lengthAdjust="spacingAndGlyphs">3</text>
<rect x="231.50" y="268.50" width="13.00" height="13.00" fill="#fff" stroke="#333" stroke-width="1"/><path d="M236.22 280.20 V271.27 M236.79 270.89 Q235.08 273.50 233.83 274.06" fill="none" stroke="#111" stroke-width="1.26" stroke-linejoin="miter"/><text x="238.30" y="280.20" font-family='"Liberation Sans", sans-serif' font-size="13.3" stroke="#111" stroke-width="0.55" textLength="5.20" lengthAdjust="spacingAndGlyphs">4</text>
<rect x="265.50" y="361.50" width="13.00" height="13.00" fill="#fff" stroke="#333" stroke-width="1"/><path d="M269.62 373.00 V364.07 M270.19 363.69 Q268.48 366.30 267.23 366.86" fill="none" stroke="#111" stroke-width="1.26" stroke-linejoin="miter"/><text x="271.70" y="373.00" font-family='"Liberation Sans", sans-serif' font-size="13.3" stroke="#111" stroke-width="0.55" textLength="5.20" lengthAdjust="spacingAndGlyphs">5</text>
<rect x="265.50" y="378.50" width="13.00" height="13.00" fill="#fff" stroke="#333" stroke-width="1"/><path d="M269.62 390.00 V381.07 M270.19 380.69 Q268.48 383.30 267.23 383.86" fill="none" stroke="#111" stroke-width="1.26" stroke-linejoin="miter"/><text x="271.70" y="390.00" font-family='"Liberation Sans", sans-serif' font-size="13.3" stroke="#111" stroke-width="0.55" textLength="5.20" lengthAdjust="spacingAndGlyphs">6</text>
<rect x="265.50" y="399.50" width="13.00" height="13.00" fill="#fff" stroke="#333" stroke-width="1"/><path d="M269.62 411.10 V402.17 M270.19 401.79 Q268.48 404.40 267.23 404.96" fill="none" stroke="#111" stroke-width="1.26" stroke-linejoin="miter"/><text x="271.70" y="411.10" font-family='"Liberation Sans", sans-serif' font-size="13.3" stroke="#111" stroke-width="0.55" textLength="5.20" lengthAdjust="spacingAndGlyphs">7</text>
<rect x="176.50" y="428.50" width="13.00" height="13.00" fill="#fff" stroke="#333" stroke-width="1"/><path d="M180.82 439.80 V430.87 M181.39 430.49 Q179.68 433.10 178.43 433.66" fill="none" stroke="#111" stroke-width="1.26" stroke-linejoin="miter"/><text x="182.90" y="439.80" font-family='"Liberation Sans", sans-serif' font-size="13.3" stroke="#111" stroke-width="0.55" textLength="5.20" lengthAdjust="spacingAndGlyphs">9</text>
<rect x="192.50" y="428.50" width="13.00" height="13.00" fill="#fff" stroke="#333" stroke-width="1"/><path d="M196.62 439.80 V430.87 M197.19 430.49 Q195.48 433.10 194.23 433.66" fill="none" stroke="#111" stroke-width="1.26" stroke-linejoin="miter"/><text x="198.70" y="439.80" font-family='"Liberation Sans", sans-serif' font-size="13.3" stroke="#111" stroke-width="0.55" textLength="5.20" lengthAdjust="spacingAndGlyphs">8</text>
<rect x="126.50" y="457.50" width="13.00" height="13.00" fill="#fff" stroke="#333" stroke-width="1"/><text x="127.90" y="468.90" font-family='"Liberation Sans", sans-serif' font-size="13.3" stroke="#111" stroke-width="0.55" textLength="5.20" lengthAdjust="spacingAndGlyphs">2</text><text x="133.10" y="468.90" font-family='"Liberation Sans", sans-serif' font-size="13.3" stroke="#111" stroke-width="0.55" textLength="5.20" lengthAdjust="spacingAndGlyphs">0</text>
<rect x="244.50" y="457.50" width="13.00" height="13.00" fill="#fff" stroke="#333" stroke-width="1"/><text x="245.80" y="468.90" font-family='"Liberation Sans", sans-serif' font-size="13.3" stroke="#111" stroke-width="0.55" textLength="5.20" lengthAdjust="spacingAndGlyphs">2</text><path d="M254.12 468.90 V459.97 M254.69 459.59 Q252.98 462.20 251.73 462.76" fill="none" stroke="#111" stroke-width="1.26" stroke-linejoin="miter"/>
<rect x="77.50" y="564.50" width="13.00" height="13.00" fill="#fff" stroke="#333" stroke-width="1"/><text x="79.20" y="575.80" font-family='"Liberation Sans", sans-serif' font-size="13.3" stroke="#111" stroke-width="0.55" textLength="5.20" lengthAdjust="spacingAndGlyphs">2</text><text x="84.40" y="575.80" font-family='"Liberation Sans", sans-serif' font-size="13.3" stroke="#111" stroke-width="0.55" textLength="5.20" lengthAdjust="spacingAndGlyphs">2</text>
<rect x="98.50" y="564.50" width="13.00" height="13.00" fill="#fff" stroke="#333" stroke-width="1"/><text x="100.00" y="575.80" font-family='"Liberation Sans", sans-serif' font-size="13.3" stroke="#111" stroke-width="0.55" textLength="5.20" lengthAdjust="spacingAndGlyphs">2</text><text x="105.20" y="575.80" font-family='"Liberation Sans", sans-serif' font-size="13.3" stroke="#111" stroke-width="0.55" textLength="5.20" lengthAdjust="spacingAndGlyphs">3</text>
<rect x="117.50" y="564.50" width="13.00" height="13.00" fill="#fff" stroke="#333" stroke-width="1"/><text x="118.50" y="575.80" font-family='"Liberation Sans", sans-serif' font-size="13.3" stroke="#111" stroke-width="0.55" textLength="5.20" lengthAdjust="spacingAndGlyphs">2</text><text x="123.70" y="575.80" font-family='"Liberation Sans", sans-serif' font-size="13.3" stroke="#111" stroke-width="0.55" textLength="5.20" lengthAdjust="spacingAndGlyphs">4</text>
<rect x="167.50" y="564.50" width="13.00" height="13.00" fill="#fff" stroke="#333" stroke-width="1"/><text x="168.70" y="575.90" font-family='"Liberation Sans", sans-serif' font-size="13.3" stroke="#111" stroke-width="0.55" textLength="5.20" lengthAdjust="spacingAndGlyphs">2</text><text x="173.90" y="575.90" font-family='"Liberation Sans", sans-serif' font-size="13.3" stroke="#111" stroke-width="0.55" textLength="5.20" lengthAdjust="spacingAndGlyphs">5</text>
<rect x="253.50" y="555.50" width="13.00" height="13.00" fill="#fff" stroke="#333" stroke-width="1"/><text x="254.90" y="566.40" font-family='"Liberation Sans", sans-serif' font-size="13.3" stroke="#111" stroke-width="0.55" textLength="5.20" lengthAdjust="spacingAndGlyphs">2</text><text x="260.10" y="566.40" font-family='"Liberation Sans", sans-serif' font-size="13.3" stroke="#111" stroke-width="0.55" textLength="5.20" lengthAdjust="spacingAndGlyphs">6</text>
<text x="64.3" y="56.8" font-family='"Liberation Sans", sans-serif' font-size="22.3" font-weight="bold" textLength="166.2" lengthAdjust="spacingAndGlyphs">Identifying parts</text>
</svg>
</body></html>
